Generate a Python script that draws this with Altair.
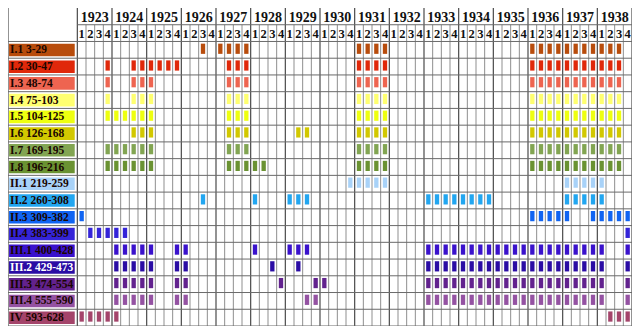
import altair as alt
import pandas as pd

# ---------------- data ----------------
years = list(range(1923, 1939))
quarter_labels = ["1", "2", "3", "4"]

row_labels = [
    "I.1 3-29", "I.2 30-47", "I.3 48-74", "I.4 75-103", "I.5 104-125",
    "I.6 126-168", "I.7 169-195", "I.8 196-216", "II.1 219-259",
    "II.2 260-308", "II.3 309-382", "II.4 383-399", "III.1 400-428",
    "III.2 429-473", "III.3 474-554", "III.4 555-590", "IV 593-628",
]
row_colors = [
    "#b84c0c", "#e0280a", "#ee6450", "#ffff70", "#eeff10",
    "#d2c800", "#82a552", "#6a9232", "#a8d2f8",
    "#22a6f0", "#1064f2", "#3424d8", "#3a12cc",
    "#2a0ca4", "#62228e", "#9452a2", "#a4446a",
]
label_text_colors = [
    "#1a0500", "#1a0500", "#1a0500", "#1a0500", "#1a0500",
    "#1a0500", "#1a0500", "#1a0500", "#1a0500",
    "#1a0500", "#1a0500", "#1a0500", "#1a0500",
    "#ffffff", "#1a0500", "#1a0500", "#1a0500",
]

# shared runs of quarters (explicit)
q1936_1938 = ["1936Q1", "1936Q2", "1936Q3", "1936Q4", "1937Q1", "1937Q2",
              "1937Q3", "1937Q4", "1938Q1", "1938Q2", "1938Q3"]
q1931 = ["1931Q1", "1931Q2", "1931Q3", "1931Q4"]
q1927 = ["1927Q2", "1927Q3", "1927Q4"]
q1933_1938 = ["1933Q1", "1933Q2", "1933Q3", "1933Q4", "1934Q1", "1934Q2",
              "1934Q3", "1934Q4", "1935Q1", "1935Q2", "1935Q3", "1935Q4",
              "1936Q1", "1936Q2", "1936Q3", "1936Q4", "1937Q1", "1937Q2",
              "1937Q3", "1937Q4", "1938Q1"]
q1924_1926 = ["1924Q1", "1924Q2", "1924Q3", "1924Q4", "1925Q1", "1925Q4", "1926Q1"]

i1 = ["1926Q3", "1927Q1", "1927Q2", "1927Q3", "1927Q4"] + q1931 + q1936_1938
i2 = ["1923Q4", "1924Q3", "1924Q4", "1925Q1", "1925Q2", "1925Q3", "1925Q4"] + q1927 + q1931 + q1936_1938
i3 = ["1923Q4", "1924Q3", "1924Q4", "1925Q1"] + q1927 + q1931 + q1936_1938
i4 = ["1923Q4", "1924Q3", "1924Q4", "1925Q1"] + q1927 + q1931 + q1936_1938
i5 = ["1923Q4", "1924Q1", "1924Q2", "1924Q3", "1924Q4", "1925Q1"] + q1927 + q1931 + q1936_1938
i6 = ["1924Q3", "1924Q4", "1925Q1"] + q1927 + ["1929Q2", "1929Q3"] + q1931 + q1936_1938
i7 = ["1923Q4", "1924Q1", "1924Q2", "1924Q3", "1924Q4", "1925Q1"] + q1927 + q1931 + q1936_1938
i8 = ["1923Q4", "1924Q1", "1924Q2", "1924Q3", "1924Q4", "1925Q1"] + q1927 + ["1928Q1", "1928Q2"] + q1931 + q1936_1938
ii1 = ["1930Q4"] + q1931 + ["1937Q1", "1937Q2", "1937Q3", "1937Q4", "1938Q1"]
ii2 = ["1926Q3", "1928Q1", "1929Q1", "1929Q2", "1929Q3",
       "1933Q1", "1933Q2", "1933Q3", "1933Q4", "1934Q1", "1934Q2", "1934Q3", "1934Q4",
       "1937Q1", "1937Q2", "1937Q3", "1937Q4", "1938Q1"]
ii3 = ["1923Q1", "1936Q1", "1936Q2", "1936Q3", "1936Q4", "1937Q1",
       "1937Q4", "1938Q1", "1938Q2", "1938Q3", "1938Q4"]
ii4 = ["1923Q2", "1923Q3", "1923Q4", "1924Q1", "1924Q2", "1938Q4"]
iii1 = q1924_1926 + ["1928Q1", "1929Q1", "1929Q2", "1929Q3"] + q1933_1938 + ["1938Q4"]
iii2 = q1924_1926 + ["1928Q3", "1929Q2"] + q1933_1938 + ["1938Q4"]
iii3 = q1924_1926 + ["1928Q4", "1929Q4", "1930Q1"] + q1933_1938 + ["1938Q4"]
iii4 = q1924_1926 + ["1929Q3", "1929Q4"] + q1933_1938 + ["1938Q4"]
iv = ["1923Q1", "1923Q2", "1923Q3", "1923Q4", "1924Q1", "1938Q2", "1938Q3", "1938Q4"]

row_periods = [i1, i2, i3, i4, i5, i6, i7, i8, ii1, ii2, ii3, ii4,
               iii1, iii2, iii3, iii4, iv]

# ---------------- tables ----------------
first_year = years[0]
n_cols = len(years) * 4
n_rows = len(row_labels)
label_cols = 8  # width of label column in quarter units


def col_of(p):
    return (int(p[:4]) - first_year) * 4 + int(p[5]) - 1


marks = []
for r, periods in enumerate(row_periods):
    for p in periods:
        c = col_of(p)
        marks.append({"x": c + 0.25, "x2": c + 0.75, "y": r + 0.13, "y2": r + 0.74,
                      "color": row_colors[r]})
marks_df = pd.DataFrame(marks)

labels_df = pd.DataFrame({
    "label": row_labels,
    "fill": row_colors,
    "tcolor": label_text_colors,
    "x": [-label_cols + 0.12] * n_rows,
    "x2": [-0.3] * n_rows,
    "y": [r + 0.13 for r in range(n_rows)],
    "y2": [r + 0.88 for r in range(n_rows)],
    "ym": [r + 0.53 for r in range(n_rows)],
})

year_df = pd.DataFrame({"year": [str(y) for y in years],
                        "x": [(y - first_year) * 4 + 2 for y in years],
                        "y": [-1.42] * len(years)})
quarter_df = pd.DataFrame({"q": [quarter_labels[c % 4] for c in range(n_cols)],
                           "x": [c + 0.5 for c in range(n_cols)],
                           "y": [-0.42] * n_cols})

qlines_df = pd.DataFrame({"x": [c for c in range(n_cols + 1) if c % 4 != 0]})
qlines_df["y"] = -1
qlines_df["y2"] = n_rows
ylines_df = pd.DataFrame({"x": [-label_cols] + [c for c in range(0, n_cols + 1, 4)]})
ylines_df["y"] = -2
ylines_df["y2"] = n_rows
hlines_df = pd.DataFrame({"y": list(range(0, n_rows + 1)) + [-1],
                          "x": [-label_cols] * (n_rows + 1) + [0],
                          "x2": [n_cols] * (n_rows + 2)})

xs = alt.Scale(domain=[-label_cols, n_cols], nice=False, zero=False)
ys = alt.Scale(domain=[-2, n_rows], nice=False, zero=False, reverse=True)
FONT = "Liberation Serif"

qlines = alt.Chart(qlines_df).mark_rule(color="#8f8f8f", strokeWidth=1).encode(
    x=alt.X("x:Q", scale=xs, axis=None),
    y=alt.Y("y:Q", scale=ys, axis=None), y2="y2:Q")
ylines = alt.Chart(ylines_df).mark_rule(color="#4a4a4a", strokeWidth=1.2).encode(
    x=alt.X("x:Q", scale=xs, axis=None),
    y=alt.Y("y:Q", scale=ys, axis=None), y2="y2:Q")
hlines = alt.Chart(hlines_df).mark_rule(color="#6a6a6a", strokeWidth=1).encode(
    y=alt.Y("y:Q", scale=ys, axis=None),
    x=alt.X("x:Q", scale=xs, axis=None), x2="x2:Q")

label_rects = alt.Chart(labels_df).mark_rect().encode(
    x=alt.X("x:Q", scale=xs, axis=None), x2="x2:Q",
    y=alt.Y("y:Q", scale=ys, axis=None), y2="y2:Q",
    color=alt.Color("fill:N", scale=None))
label_text = alt.Chart(labels_df).mark_text(
    align="left", baseline="middle", font=FONT, fontWeight="bold", fontSize=11.5, dx=1
).encode(
    x=alt.X("x:Q", scale=xs, axis=None),
    y=alt.Y("ym:Q", scale=ys, axis=None),
    text="label:N",
    color=alt.Color("tcolor:N", scale=None))

mark_rects = alt.Chart(marks_df).mark_rect().encode(
    x=alt.X("x:Q", scale=xs, axis=None), x2="x2:Q",
    y=alt.Y("y:Q", scale=ys, axis=None), y2="y2:Q",
    color=alt.Color("color:N", scale=None))

year_text = alt.Chart(year_df).mark_text(
    align="center", baseline="middle", font=FONT, fontWeight="bold", fontSize=14, color="#111"
).encode(x=alt.X("x:Q", scale=xs, axis=None), y=alt.Y("y:Q", scale=ys, axis=None), text="year:N")
quarter_text = alt.Chart(quarter_df).mark_text(
    align="center", baseline="middle", font=FONT, fontWeight="bold", fontSize=12.5, color="#111"
).encode(x=alt.X("x:Q", scale=xs, axis=None), y=alt.Y("y:Q", scale=ys, axis=None), text="q:N")

chart = alt.layer(
    qlines, ylines, hlines, label_rects, mark_rects, label_text, year_text, quarter_text
).properties(
    width=624, height=318, padding=0, autosize="none", background="white"
).configure_view(stroke=None)

chart.save("out.html", embed_options={"renderer": "svg", "actions": False})
